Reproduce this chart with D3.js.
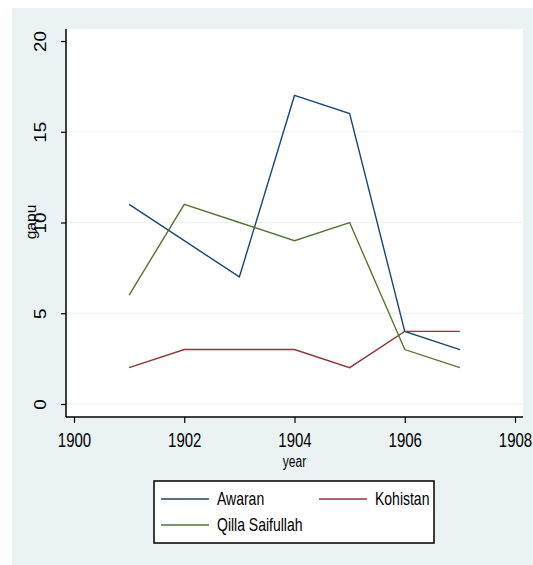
<!DOCTYPE html>
<html>
<head>
<meta charset="utf-8">
<script src="https://cdn.jsdelivr.net/npm/d3@7"></script>
<style>
  body { margin: 0; background: #fff; }
  svg text { font-family: "Liberation Sans Narrow", "Liberation Sans", Arial, sans-serif; fill: #000; }
</style>
</head>
<body>
<div id="chart"></div>
<script>
const years = [1901, 1902, 1903, 1904, 1905, 1906, 1907];
const awaran = [11, 9, 7, 17, 16, 4, 3];
const kohistan = [2, 3, 3, 3, 2, 4, 4];
const qillaSaifullah = [6, 11, 10, 9, 10, 3, 2];
const seriesNames = ["Awaran", "Kohistan", "Qilla Saifullah"];
const seriesColors = ["#1a476f", "#90353b", "#55752f"];
const xTicks = [1900, 1902, 1904, 1906, 1908];
const yTicks = [0, 5, 10, 15, 20];

const width = 533, height = 565;
const svg = d3.select("#chart").append("svg")
  .attr("width", width).attr("height", height);

// outer stata-like background
svg.append("rect").attr("x", 12).attr("y", 8)
  .attr("width", width - 12).attr("height", height - 8)
  .attr("fill", "#eaf2f3");

const plot = { left: 66, right: 523, top: 29, bottom: 417 };
svg.append("rect").attr("x", plot.left).attr("y", plot.top)
  .attr("width", plot.right - plot.left).attr("height", plot.bottom - plot.top)
  .attr("fill", "#fff");

const x = d3.scaleLinear().domain([1900, 1908]).range([74, 515]);
const y = d3.scaleLinear().domain([0, 20]).range([404, 41]);

// gridlines
svg.append("g").selectAll("line")
  .data(yTicks.filter((d) => d < 20))
  .join("line")
  .attr("x1", plot.left).attr("x2", plot.right)
  .attr("y1", (d) => y(d)).attr("y2", (d) => y(d))
  .attr("stroke", "#eaf2f3").attr("stroke-width", 1.2);

// y axis
const yAxis = svg.append("g")
  .attr("transform", `translate(${plot.left},0)`)
  .call(d3.axisLeft(y).tickValues(yTicks).tickSize(5).tickFormat(d3.format("d")));
yAxis.select(".domain").attr("d", `M0,${plot.top}V${plot.bottom}`)
  .attr("stroke", "#000").attr("stroke-width", 1.5);
yAxis.selectAll(".tick line").attr("stroke", "#000").attr("stroke-width", 1.2);
yAxis.selectAll(".tick text")
  .attr("x", 0).attr("y", 0).attr("dy", 0)
  .attr("text-anchor", "middle")
  .attr("transform", "translate(-20,0) rotate(-90) scale(1.25,1.15)")
  .style("font-size", "15px");

// x axis
const xAxis = svg.append("g")
  .attr("transform", `translate(0,${plot.bottom})`)
  .call(d3.axisBottom(x).tickValues(xTicks).tickSize(6).tickFormat(d3.format("d")));
xAxis.select(".domain").attr("d", `M${plot.left},0H${plot.right}`)
  .attr("stroke", "#000").attr("stroke-width", 1.5);
xAxis.selectAll(".tick line").attr("stroke", "#000").attr("stroke-width", 1.2);
xAxis.selectAll(".tick text")
  .attr("y", 0).attr("dy", 0)
  .attr("transform", "translate(0,30) scale(1,1.3)")
  .style("font-size", "15px");

// axis titles
svg.append("text")
  .attr("transform", `translate(${(plot.left + plot.right) / 2},467) scale(1,1.3)`)
  .attr("text-anchor", "middle")
  .style("font-size", "12px")
  .text("year");
svg.append("text")
  .attr("transform", "translate(36,222) rotate(-90) scale(1.2,1.1)")
  .attr("text-anchor", "middle")
  .style("font-size", "13px")
  .text("gapu");

// lines
const seriesData = [awaran, kohistan, qillaSaifullah];
const line = d3.line().x((d) => x(d[0])).y((d) => y(d[1]));
svg.append("g").selectAll("path")
  .data(seriesData)
  .join("path")
  .attr("d", (vals) => line(years.map((yr, i) => [yr, vals[i]])))
  .attr("fill", "none")
  .attr("stroke", (_, i) => seriesColors[i])
  .attr("stroke-width", 1.4);

// legend
const legend = svg.append("g");
legend.append("rect")
  .attr("x", 154).attr("y", 481).attr("width", 280).attr("height", 62)
  .attr("fill", "#fff").attr("stroke", "#000").attr("stroke-width", 1.5);
const legendPos = [[161, 499], [319, 499], [161, 525]];
const items = legend.selectAll(".legend-item")
  .data(seriesNames)
  .join("g")
  .attr("class", "legend-item")
  .attr("transform", (_, i) => `translate(${legendPos[i][0]},${legendPos[i][1]})`);
items.append("line")
  .attr("x1", 0).attr("x2", 48)
  .attr("stroke", (_, i) => seriesColors[i]).attr("stroke-width", 1.4);
items.append("text")
  .attr("transform", "translate(56,6) scale(1,1.3)")
  .style("font-size", "14px")
  .text((d) => d);
</script>
</body>
</html>
